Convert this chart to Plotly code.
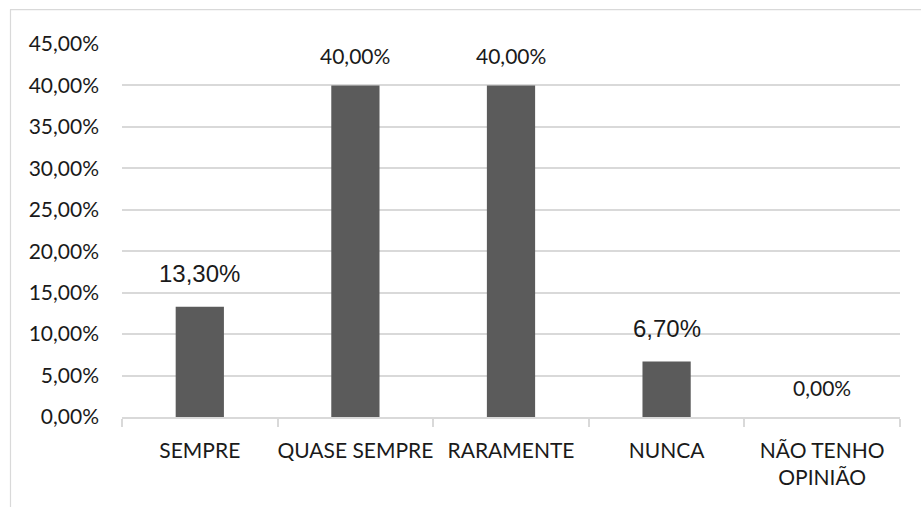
import plotly.graph_objects as go

# Survey answers and their share of respondents (%)
categories = ["SEMPRE", "QUASE SEMPRE", "RARAMENTE", "NUNCA", "NÃO TENHO<br>OPINIÃO"]
shares = [13.30, 40.00, 40.00, 6.70, 0.00]
y_ticks = [0, 5, 10, 15, 20, 25, 30, 35, 40, 45]


def pct(v):
    return f"{v:.2f}".replace(".", ",") + "%"


y_tick_text = [pct(v) for v in y_ticks]
label_text = [pct(v) for v in shares]

# Label typography (two of the value labels use a larger Arial-like face)
body_font = "Lato"
body_size = 21
label_fonts = [("Liberation Sans", 24), (body_font, body_size), (body_font, body_size),
               ("Liberation Sans", 24), (body_font, body_size)]

W, H = 921, 507
L, R, T, B = 122, 21, 43.5, 90
pw, ph = W - L - R, H - T - B

fig = go.Figure(
    go.Bar(
        x=categories,
        y=shares,
        marker=dict(color="#5b5b5b", line=dict(width=0)),
        hoverinfo="skip",
    )
)

for cat, val, txt, (fam, size) in zip(categories, shares, label_text, label_fonts):
    fig.add_annotation(
        x=cat, y=val, text=txt, showarrow=False,
        xanchor="center", yanchor="middle",
        yshift=6 + 1.12 * size,
        font=dict(family=fam, size=size, color="#1a1a1a"),
    )

# Outer chart border (top and left edges visible)
grey = "#d9d9d9"
fig.add_shape(type="line", xref="paper", yref="paper",
              x0=(10 - L) / pw, x1=(W + 5 - L) / pw,
              y0=(H - 9 - B) / ph, y1=(H - 9 - B) / ph,
              line=dict(color=grey, width=1.2))
fig.add_shape(type="line", xref="paper", yref="paper",
              x0=(10.5 - L) / pw, x1=(10.5 - L) / pw,
              y0=(H - 9 - B) / ph, y1=(-10 - B) / ph,
              line=dict(color=grey, width=1.2))

fig.update_layout(
    width=W, height=H,
    margin=dict(l=L, r=R, t=T, b=B, autoexpand=False),
    paper_bgcolor="white", plot_bgcolor="white",
    bargap=0.69,
    showlegend=False,
    font=dict(family=body_font, size=body_size, color="#1a1a1a"),
)
fig.update_xaxes(
    type="category",
    automargin=False,
    tickangle=0,
    showgrid=False,
    showline=True, linecolor=grey, linewidth=1.5,
    ticks="outside", tickson="boundaries", ticklen=8, tickcolor=grey, tickwidth=1.5,
    tickfont=dict(family=body_font, size=body_size, color="#1a1a1a"),
    ticklabelstandoff=14,
)
fig.update_yaxes(
    automargin=False,
    range=[0, 45],
    tickvals=y_ticks, ticktext=y_tick_text,
    showgrid=True, gridcolor=grey, gridwidth=1.5,
    zeroline=False, showline=False, ticks="",
    tickfont=dict(family=body_font, size=body_size, color="#1a1a1a"),
    ticklabelstandoff=22,
)

fig.write_html("out.html")
